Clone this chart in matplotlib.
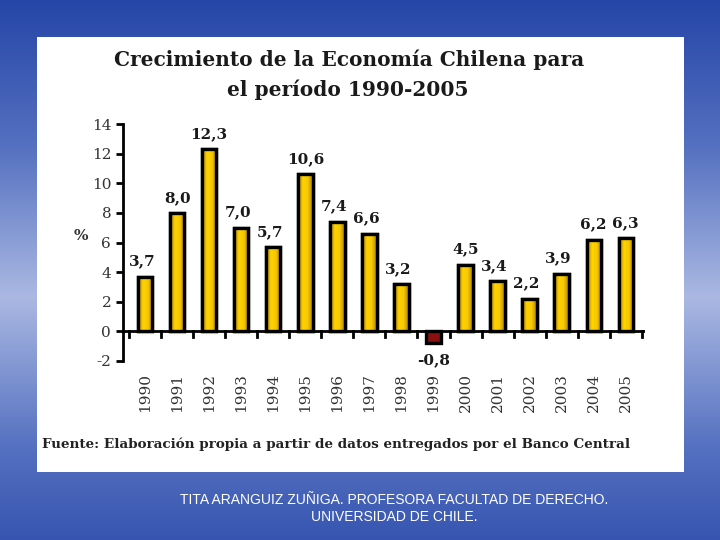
import numpy as np
import matplotlib.pyplot as plt
from matplotlib.patches import Rectangle
from matplotlib.colors import LinearSegmentedColormap

years = ['1990', '1991', '1992', '1993', '1994', '1995', '1996', '1997',
         '1998', '1999', '2000', '2001', '2002', '2003', '2004', '2005']
growth = [3.7, 8.0, 12.3, 7.0, 5.7, 10.6, 7.4, 6.6,
          3.2, -0.8, 4.5, 3.4, 2.2, 3.9, 6.2, 6.3]
labels = ['3,7', '8,0', '12,3', '7,0', '5,7', '10,6', '7,4', '6,6',
          '3,2', '-0,8', '4,5', '3,4', '2,2', '3,9', '6,2', '6,3']

serif = ['DejaVu Serif']

fig = plt.figure(figsize=(7.2, 5.4), dpi=100)

# fondo azul de la diapositiva
bg = fig.add_axes([0, 0, 1, 1])
cmap = LinearSegmentedColormap.from_list('slide', ['#2444a6', '#5470c0', '#aab8e2'])
grad = np.linspace(0, 1, 256).reshape(-1, 1)
grad = 1 - np.abs(grad - 0.55) * 1.6
bg.imshow(grad, aspect='auto', cmap=cmap, vmin=0.1, vmax=1,
          extent=[0, 1, 0, 1])
bg.set_xlim(0, 1)
bg.set_ylim(0, 1)
bg.axis('off')

# panel blanco
bg.add_patch(Rectangle((37 / 720, 1 - 472 / 540), 647 / 720, 435 / 540,
                       facecolor='white', edgecolor='none', zorder=2))

bg.text(349 / 720, 1 - 60 / 540, 'Crecimiento de la Economía Chilena para',
        ha='center', va='center', fontsize=14.5, fontweight='bold',
        family=serif, color='#1a1a1a', zorder=3)
bg.text(348 / 720, 1 - 90 / 540, 'el período 1990-2005',
        ha='center', va='center', fontsize=14.5, fontweight='bold',
        family=serif, color='#1a1a1a', zorder=3)
bg.text(42 / 720, 1 - 444 / 540,
        'Fuente: Elaboración propia a partir de datos entregados por el Banco Central',
        ha='left', va='center', fontsize=9.7, fontweight='bold',
        family=serif, color='#222222', zorder=3)
bg.text(394 / 720, 1 - 500 / 540, 'TITA ARANGUIZ ZUÑIGA. PROFESORA FACULTAD DE DERECHO.',
        ha='center', va='center', fontsize=10, family='Liberation Sans',
        color='white', zorder=3)
bg.text(394 / 720, 1 - 517 / 540, 'UNIVERSIDAD DE CHILE.',
        ha='center', va='center', fontsize=10, family='Liberation Sans',
        color='white', zorder=3)

ax = fig.add_axes([123 / 720, 1 - 361 / 540, 522 / 720, 237 / 540])
ax.set_facecolor('none')
x = np.arange(len(years))
colors = ['#f0c000' if v >= 0 else '#8b1010' for v in growth]
bars = ax.bar(x, growth, width=0.45, color=colors, edgecolor='black',
              linewidth=2.4, zorder=3)

# degradado dorado dentro de las barras
gold = LinearSegmentedColormap.from_list('gold', ['#a87800', '#ffd400', '#f5c800', '#a87800'])
for b, v in zip(bars, growth):
    if v < 0:
        continue
    x0, w = b.get_x(), b.get_width()
    im = ax.imshow(np.linspace(0, 1, 64).reshape(1, -1), cmap=gold, aspect='auto',
                   extent=[x0, x0 + w, 0, v], zorder=3.5)
    im.set_clip_path(b)
    edge = Rectangle((x0, 0), w, v, fill=False, edgecolor='black',
                     linewidth=2.4, zorder=4)
    ax.add_patch(edge)

for xi, v, lab in zip(x, growth, labels):
    if v >= 0:
        ax.text(xi - 0.1 if xi in (0, 3, 4, 6, 7, 8, 11, 12, 13) else xi, v + 0.55, lab,
                ha='center', va='bottom', fontsize=11, fontweight='bold',
                family=serif, color='#1a1a1a')
    else:
        ax.text(xi, v - 0.7, lab, ha='center', va='top', fontsize=11,
                fontweight='bold', family=serif, color='#1a1a1a')

ax.set_xlim(-0.69, 15.6)
ax.set_ylim(-2, 14)
ax.set_yticks(range(-2, 15, 2))
ax.set_yticklabels([str(t) for t in range(-2, 15, 2)], family=serif,
                   fontsize=11, color='#333333')
ax.tick_params(axis='y', width=2, length=5)
ax.axhline(0, color='black', linewidth=2, zorder=2)
for b in np.arange(-0.5, 15.6, 1):
    ax.plot([b, b], [0, -0.35], color='black', linewidth=2, zorder=2)
ax.set_xticks([])
for xi, yr in zip(x, years):
    ax.text(xi, -2.8, yr, rotation=90, ha='center', va='top', fontsize=11,
            family=serif, color='#333333')

for s in ['top', 'right', 'bottom']:
    ax.spines[s].set_visible(False)
ax.spines['left'].set_linewidth(2)
ax.set_ylabel('%', family=serif, fontsize=11, fontweight='bold', rotation=0,
              labelpad=8, color='#333333')

fig.savefig('out.png', dpi=100)
